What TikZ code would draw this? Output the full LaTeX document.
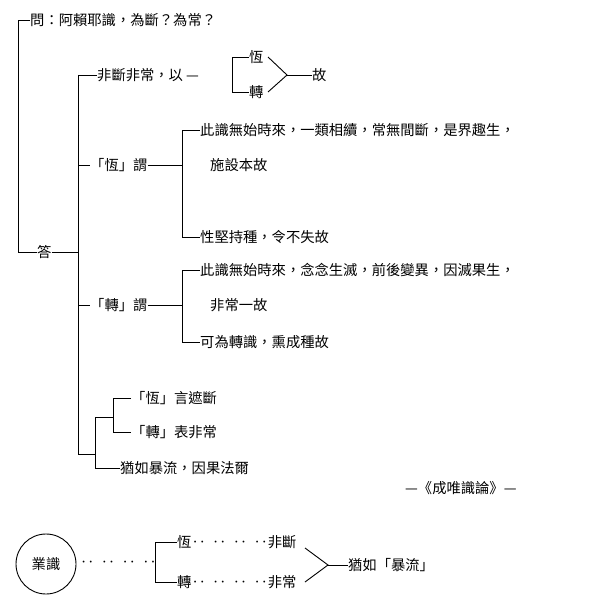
\documentclass[tikz,border=0pt]{standalone}
\usepackage{fontspec}
\setmainfont{Noto Sans CJK TC}
\usetikzlibrary{positioning}
\begin{document}
\begin{tikzpicture}[x=1pt,y=-1pt,
    txt/.style={anchor=west,inner sep=0pt,font=\fontsize{14.3}{16}\selectfont},
    br/.style={line width=.9pt},
    ]
    \useasboundingbox (0,0) rectangle (606,607);
    % question and answer
    \node[txt] (q) at (30,20) {問：阿賴耶識，為斷？為常？};
    \node[txt] (ans) at (37,252) {答};
    \draw[br] (q.west) -- (18,20) -- (18,252) -- (ans.west);
    \draw[br] (ans.east) -- (78,252);
    \draw[br] (78,75) -- (78,454) -- (95,454);
    % branch 1
    \node[txt] (b1) at (97,75) {非斷非常，以 —};
    \node[txt] (h1) at (249,57) {恆};
    \node[txt] (z1) at (249,92) {轉};
    \node[txt] (g1) at (312,75) {故};
    \draw[br] (78,75) -- (b1.west);
    \draw[br] (h1.west) -- (232,57) -- (232,92) -- (z1.west);
    \draw[br] (268,57) -- (287,75) -- (268,92);
    \draw[br] (287,75) -- (g1.west);
    % branch 2
    \node[txt] (b2) at (90,165) {「恆」謂};
    \node[txt] (t21) at (200,130) {此識無始時來，一類相續，常無間斷，是界趣生，};
    \node[txt] (t22) at (210,165) {施設本故};
    \node[txt] (t23) at (200,237) {性堅持種，令不失故};
    \draw[br] (78,165) -- (b2.west);
    \draw[br] (b2.east) -- (182,165);
    \draw[br] (t21.west) -- (182,130) -- (182,237) -- (t23.west);
    % branch 3
    \node[txt] (b3) at (90,305) {「轉」謂};
    \node[txt] (t31) at (200,270) {此識無始時來，念念生滅，前後變異，因滅果生，};
    \node[txt] (t32) at (210,305) {非常一故};
    \node[txt] (t33) at (200,342) {可為轉識，熏成種故};
    \draw[br] (78,305) -- (b3.west);
    \draw[br] (b3.east) -- (182,305);
    \draw[br] (t31.west) -- (182,270) -- (182,342) -- (t33.west);
    % branch 4
    \node[txt] (c1) at (131,398) {「恆」言遮斷};
    \node[txt] (c2) at (131,432) {「轉」表非常};
    \node[txt] (c3) at (120,468) {猶如暴流，因果法爾};
    \draw[br] (c1.west) -- (113,398) -- (113,432) -- (c2.west);
    \draw[br] (113,417) -- (95,417) -- (95,468) -- (c3.west);
    \node[txt] (src) at (405,488) {—《成唯識論》—};
    % bottom
    \draw[br] (46,564) circle (30);
    \node[font=\fontsize{14.3}{16}\selectfont] (ys) at (46,564) {業識};
    \node[txt] (dots) at (80,564) {‥\ \ ‥\ \ ‥\ \ ‥};
    \node[txt] (h2) at (177,542) {恆‥\ \ ‥\ \ ‥\ \ ‥非斷};
    \node[txt] (z2) at (177,582) {轉‥\ \ ‥\ \ ‥\ \ ‥非常};
    \node[txt] (res) at (348,565) {猶如「暴流」};
    \draw[br] (h2.west) -- (155,542) -- (155,582) -- (z2.west);
    \draw[br] (305,548) -- (328,565) -- (305,582);
    \draw[br] (328,565) -- (res.west);
\end{tikzpicture}
\end{document}
